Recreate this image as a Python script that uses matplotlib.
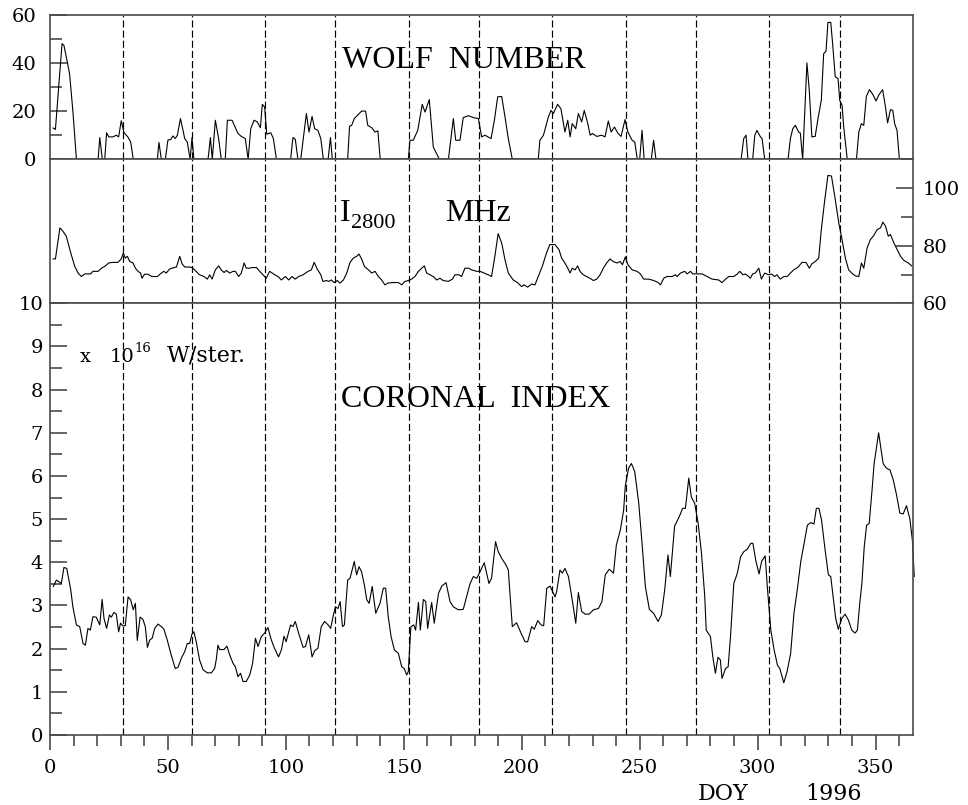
import numpy as np
import matplotlib
matplotlib.use("Agg")
import matplotlib.pyplot as plt
from matplotlib.ticker import MultipleLocator

plt.rcParams['font.family'] = 'DejaVu Serif'

# first day of each month, 1996 (leap year)
month_starts = [31, 60, 91, 121, 152, 182, 213, 244, 274, 305, 335]

# daily Wolf number (day of year, value)
wolf = [(1.3, 13), (2.3, 12.4), (5.1, 48), (5.9, 47.3), (6.9, 42.5), (8.3, 35.5), (9.7, 20),
        (11.2, 0), (20.4, 0), (21.1, 9), (22.2, 0), (23.2, 0), (24, 11), (24.9, 9.3), (26.7, 9.3),
        (28.1, 10), (29.1, 9.3), (30.2, 16), (31.4, 11), (33, 9.3), (34.2, 7.2), (35.3, 0),
        (45.5, 0), (46.2, 7), (47.2, 0), (48.9, 0), (50, 8), (51.2, 8.2), (52.1, 9.7), (53.1, 8.6),
        (54, 10), (55.3, 16.9), (56.4, 12), (57.1, 8.6), (58.2, 7.2), (59.4, 0), (60.2, 9), (61, 0),
        (67, 0), (68, 9), (68.8, 0), (70.1, 16.2), (71.5, 8.6), (72.6, 0), (74.3, 0), (75.2, 16.2),
        (77.2, 16.2), (79.7, 10.7), (81.1, 9.5), (82.8, 8.6), (84, 0), (85.1, 12.7), (86.5, 16.2),
        (87.9, 15.5), (89.2, 13.1), (90, 22.8), (91, 21.7), (91.9, 10.4), (93.6, 11), (94.7, 8.6),
        (96, 0), (102, 0), (103, 9), (104, 8.3), (105.1, 0), (106.3, 0), (108.7, 19), (109.8, 11.3),
        (111.1, 17.8), (112.2, 12.7), (113.6, 12), (114.8, 8.6), (115.9, 0), (117.9, 0), (118.9, 9),
        (119.7, 0), (126.2, 0), (127, 13.7), (127.9, 14.1), (129, 16.9), (130.4, 18.3), (132.1, 20),
        (133.8, 20), (134.7, 14.1), (136.4, 13.1), (137.8, 11.3), (139, 11.8), (140, 0), (151.9, 0),
        (152.6, 7.9), (154, 7.9), (155.9, 12), (157.8, 22.8), (159, 19.6), (160.8, 24.8), (162.5, 5.1),
        (165.1, 0), (168.9, 0), (171, 16.9), (172, 7.9), (173.8, 7.9), (175.2, 17.3), (177.4, 18.1),
        (179.5, 17.3), (181.6, 16.9), (183, 9.3), (184.4, 10), (187, 8.6), (188.4, 16.2), (189.8, 25.9),
        (191.5, 26.1), (192.9, 17.6), (194.3, 8.6), (196, 0), (207, 0), (207.7, 7.9), (209.2, 10),
        (211.3, 17.6), (212.4, 20.3), (213.4, 19), (215.2, 22.8), (216.6, 21), (218.3, 11.3),
        (219.5, 16.2), (220.5, 9.3), (221.4, 14.8), (222.9, 12.7), (224, 19), (225.4, 15.5),
        (226.5, 20.3), (228, 14.8), (229, 10), (230, 10.7), (231.8, 9.5), (233.9, 10), (235.3, 9.3),
        (236.7, 15.9), (237.9, 11.3), (239.3, 13.4), (240.7, 10.9), (242.1, 9.5), (243.8, 16.5),
        (245, 11.3), (246.8, 7.9), (247.9, 7.2), (249, 0), (250, 0), (251, 12), (251.9, 0), (254.9, 0),
        (255.9, 7.9), (256.9, 0), (293, 0), (294.1, 8.6), (295.1, 10), (295.9, 0), (297.9, 0),
        (298.8, 10), (299.7, 12), (301.2, 9.3), (301.9, 8.6), (303, 0), (312.9, 0), (313.9, 8.6),
        (314.9, 12.7), (316, 14.1), (317.4, 11.3), (318.1, 10.9), (319.1, 0), (320.9, 40),
        (321.9, 28.6), (323, 9.3), (324.4, 9.5), (325.6, 16.9), (327, 24.5), (328, 43.8), (329, 44.9),
        (329.8, 56.8), (331, 56.8), (331.8, 48), (332.9, 34.2), (334.1, 33.5), (334.8, 24.5),
        (335.8, 22.4), (336.5, 13.4), (338, 0), (341.9, 0), (342.9, 11.3), (344, 14.8), (345, 14.1),
        (346.1, 26.1), (347.4, 28.9), (348.8, 27), (350.2, 24.2), (351.3, 26.6), (353, 28.9),
        (354.2, 21.7), (355.1, 15.1), (356.3, 20.6), (357.3, 20.3), (358.1, 14.8), (359.1, 12),
        (360.1, 0), (366, 0)]

# 2800 MHz radio flux
flux = [(1.3, 75.4), (2.3, 75.4), (4.2, 86.2), (5.5, 85), (6.9, 83.3), (8.8, 77.5), (10.5, 72.8),
        (11.9, 70.5), (13.3, 69.3), (14.7, 70.2), (17.2, 70.2), (18.2, 71.1), (20.4, 71.1),
        (21.8, 72.2), (23.2, 72.8), (24.9, 74), (26.3, 74.2), (28.8, 74.2), (30.2, 75.4), (31.1, 77.5),
        (31.9, 75.7), (32.8, 76.3), (33.8, 74.5), (35.2, 74), (36.2, 72.2), (37.3, 71.1), (38.4, 70.5),
        (39, 68.7), (40.1, 70.1), (41.5, 70.1), (43.2, 69.3), (45.5, 69.3), (47.2, 70.5), (48.3, 71.1),
        (49.3, 70.5), (50.7, 71.9), (51.7, 72.2), (53.6, 72.6), (55, 76.3), (56, 73.7), (57.1, 72.6),
        (59.2, 72.6), (60.2, 72.4), (61.3, 71.6), (63.4, 69.9), (65.3, 69.3), (66.7, 68.4), (67.7, 69.9),
        (68.7, 68.4), (70.1, 71.6), (71.5, 73), (72.6, 71.6), (73.8, 70.7), (74.8, 71.4), (76.2, 70.5),
        (77.6, 71.1), (78.6, 71.1), (80, 69.3), (81.1, 70.5), (82.3, 74), (83.2, 72.2), (84.7, 72.2),
        (85.6, 72.4), (87.5, 72.4), (88.9, 71.1), (90.3, 69.9), (91.7, 68.7), (93.1, 71.1), (95.3, 69.9),
        (96.7, 69.3), (98.1, 68.1), (99.8, 69.3), (101.2, 68.1), (102.6, 69.3), (104, 68.4),
        (105.4, 69.3), (107.3, 69.9), (109.4, 71.1), (110.8, 71.6), (112, 74.2), (113.3, 71.9),
        (114.8, 69.9), (115.7, 67.6), (117.2, 67.9), (118.1, 67.6), (119.3, 68.1), (120.4, 67.2),
        (121.8, 67.9), (122.9, 67), (124.4, 68.1), (125.8, 70.5), (127.2, 74.2), (128.6, 75.7),
        (130, 76.3), (131, 77.1), (132.1, 75.4), (133.3, 72.8), (135, 71.6), (136.4, 70.5),
        (137.8, 71.1), (139.2, 69.3), (140.6, 68.1), (142, 66.4), (143.2, 67), (144.9, 67.2),
        (147.7, 67.2), (149.1, 66.4), (150.5, 67.6), (151.9, 67.9), (153.3, 68.4), (154.7, 69.3),
        (156.2, 71.1), (157.6, 72.2), (158.7, 73), (159.7, 70.5), (161.1, 69.9), (162.5, 69.3),
        (163.9, 68.1), (165.3, 68.7), (166.7, 67.9), (168.9, 67.6), (170.6, 68.4), (171.7, 69.9),
        (173.4, 69.9), (174.5, 69.3), (175.9, 72.2), (177.4, 72.2), (178.8, 71.6), (180.9, 71.1),
        (182.3, 71.1), (184.1, 70.5), (185.8, 69.9), (187.2, 69.3), (188.6, 76.3), (190, 84.2),
        (191.5, 80.9), (192.9, 75.1), (194.3, 70.5), (196.4, 68.1), (198.2, 67.2), (199.9, 65.8),
        (201, 66.4), (202.5, 65.6), (204.2, 66.7), (205.6, 66.4), (207, 69.3), (208.7, 72.8),
        (210.5, 77.5), (211.9, 80.4), (214.1, 80.4), (215.8, 78.6), (216.9, 75.7), (218.3, 74),
        (219.5, 72.2), (220.5, 70.5), (221.4, 72.2), (222.6, 71.6), (223.7, 73), (224.7, 71.1),
        (226.1, 69.9), (227.5, 69.3), (228.9, 68.7), (230.4, 67.9), (231.8, 68.4), (233.2, 69.9),
        (234.6, 72.2), (236, 74), (237.4, 75.4), (238.8, 74.5), (240.3, 74), (241.7, 74.5),
        (242.7, 73.4), (243.9, 76.1), (245, 73.4), (246.8, 71.6), (248.9, 71.1), (250.3, 70.2),
        (251.7, 68.4), (253.8, 68.4), (256, 67.9), (257.8, 67.2), (258.8, 66.4), (260.2, 68.7),
        (261.6, 69.3), (263.7, 69.3), (265.2, 69.9), (265.9, 69.3), (267.3, 70.5), (269.1, 71.1),
        (270.1, 70.2), (271.5, 71.1), (272.5, 70.2), (276.5, 70.2), (278.6, 69.3), (280.7, 68.4),
        (283.5, 68.1), (284.9, 67.2), (286.4, 68.4), (287.8, 69.3), (289.9, 69.3), (291.4, 70.2),
        (292.4, 71.1), (293.8, 69.9), (294.8, 70.2), (296.2, 69.3), (296.9, 68.7), (297.9, 70.2),
        (299, 70.5), (300.5, 72.2), (301.6, 68.4), (303, 70.5), (304.7, 69.9), (305.8, 70.2),
        (307.2, 69.3), (308.2, 69.9), (309.6, 68.4), (311.1, 69.3), (312.5, 69.3), (313.9, 70.5),
        (315.3, 71.6), (317.2, 72.6), (318.8, 74.2), (320.5, 74.2), (321.9, 72.2), (323, 73.7),
        (324.4, 74.5), (325.9, 75.7), (327, 85.6), (328.4, 95.5), (329.8, 104.4), (331.3, 104.2),
        (332.7, 97.2), (334.4, 87.9), (335.8, 82.1), (337.2, 75.7), (338.6, 71.6), (340.3, 70.2),
        (341.5, 69.5), (342.9, 69.3), (344, 74), (345, 72.2), (346.4, 79.2), (347.8, 82.1),
        (349.2, 83.5), (350.7, 85.6), (352.1, 86.2), (353.1, 88.2), (354.2, 86.8), (355.4, 83.3),
        (356.3, 83.9), (357.8, 80.9), (359.2, 78.6), (360.6, 76.3), (362, 74.9), (363.9, 74),
        (365.3, 73)]

# coronal index, units of 1e16 W/ster
coronal = [(1.4, 3.44), (2.7, 3.59), (4.8, 3.51), (5.9, 3.88), (7.1, 3.86), (8.8, 3.36), (9.7, 2.97),
           (11.2, 2.55), (12.6, 2.51), (14, 2.12), (15, 2.08), (16.1, 2.47), (17.1, 2.43), (18.2, 2.74),
           (19.6, 2.73), (21.1, 2.55), (22.1, 3.14), (22.9, 2.7), (24, 2.47), (25.2, 2.78), (26, 2.73),
           (27.1, 2.84), (28.1, 2.8), (29.1, 2.39), (29.9, 2.59), (30.9, 2.53), (31.9, 2.53), (33.1, 3.2),
           (34.2, 3.13), (35.3, 2.9), (36.2, 3.05), (37, 2.19), (38.2, 2.73), (39.4, 2.68), (40.4, 2.51),
           (41.3, 2.03), (42.3, 2.2), (43.3, 2.24), (44.4, 2.47), (45.8, 2.57), (47.2, 2.51), (48.3, 2.45),
           (49.7, 2.2), (51.4, 1.85), (53.1, 1.54), (54.3, 1.57), (55.7, 1.78), (57.1, 1.93), (58.2, 2.12),
           (59.2, 2.12), (60.2, 2.34), (61, 2.39), (62, 2.16), (63.4, 1.74), (64.9, 1.51), (66.7, 1.44),
           (68.4, 1.44), (69.8, 1.54), (70.5, 1.75), (71.2, 2.08), (71.9, 1.98), (73.8, 1.98), (75, 2.06),
           (76.2, 1.85), (77.6, 1.66), (78.6, 1.58), (79.7, 1.35), (80.8, 1.43), (81.8, 1.24), (83.2, 1.24),
           (84.7, 1.39), (85.9, 1.66), (87.1, 2.24), (88.2, 2.05), (89.6, 2.28), (91, 2.36), (92.4, 2.49),
           (93.6, 2.24), (95, 2.03), (96.9, 1.81), (98.1, 1.97), (99.2, 2.29), (100.1, 2.16), (102, 2.55),
           (103, 2.51), (104, 2.63), (105.4, 2.36), (107.3, 2.03), (108.3, 2.05), (109.7, 2.32),
           (111.1, 1.81), (112.2, 1.95), (113.6, 2.01), (115, 2.51), (116.4, 2.63), (117.9, 2.55),
           (119, 2.47), (120, 2.74), (121, 2.97), (122.1, 2.93), (123, 3.09), (124, 2.51), (124.8, 2.55),
           (126.2, 3.59), (127.2, 3.63), (129, 4.02), (130, 3.71), (131, 3.9), (132.1, 3.78), (133.3, 3.47),
           (134.3, 3.13), (135.3, 3.05), (136.6, 3.44), (138.1, 2.82), (139.9, 3.05), (141.3, 3.4),
           (142.3, 3.4), (143.4, 2.74), (144.6, 2.28), (146, 1.97), (147.7, 1.89), (149.1, 1.58),
           (150.2, 1.54), (151.2, 1.39), (151.9, 1.47), (153, 2.51), (154.2, 2.55), (155, 2.43),
           (156.2, 3.07), (157, 2.43), (158.3, 3.14), (159.3, 3.09), (160.1, 2.47), (161.8, 3.07),
           (162.9, 2.59), (164.7, 3.28), (166.1, 3.45), (167.9, 3.53), (169.6, 3.09), (171, 2.97),
           (173.1, 2.9), (175.2, 2.91), (176.6, 3.2), (178.1, 3.51), (179.5, 3.67), (180.9, 3.63),
           (182.3, 3.78), (184.1, 3.99), (186.1, 3.51), (187.2, 3.63), (188.9, 4.48), (190, 4.25),
           (191.5, 4.09), (193.1, 3.96), (194.3, 3.82), (196, 2.51), (197.8, 2.6), (199.7, 2.36),
           (201.4, 2.16), (202.5, 2.16), (204.2, 2.51), (205.3, 2.45), (206.8, 2.65), (208.2, 2.55),
           (209.3, 2.53), (210.6, 3.4), (212, 3.45), (214.1, 3.2), (214.8, 3.32), (216.2, 3.82),
           (217.2, 3.75), (218.3, 3.86), (219.8, 3.67), (221.4, 3.13), (222.9, 2.59), (224, 3.3),
           (225.4, 2.86), (226.9, 2.8), (228.6, 2.8), (230.4, 2.9), (232.5, 2.93), (234, 3.09),
           (235.4, 3.71), (237.1, 3.84), (238.9, 3.75), (240.1, 4.4), (241.8, 4.75), (243.2, 5.21),
           (243.9, 5.77), (245.3, 6.18), (246.5, 6.29), (247.9, 6.1), (249.6, 5.37), (251, 4.44),
           (252.4, 3.44), (254.1, 2.91), (255.9, 2.82), (257.8, 2.63), (259.2, 2.78), (260.6, 3.36),
           (262, 4.17), (263, 3.67), (264.8, 4.84), (266.8, 5.06), (268.2, 5.25), (269.4, 5.25),
           (270.8, 5.95), (271.9, 5.51), (273.3, 5.37), (274.8, 4.9), (276.2, 4.21), (277.6, 3.2),
           (278.2, 2.43), (280, 2.28), (281, 1.81), (282.1, 1.43), (283.2, 1.8), (284.2, 1.74),
           (284.9, 1.31), (286.4, 1.54), (287.5, 1.58), (288.5, 2.28), (289.9, 3.51), (291.4, 3.75),
           (292.8, 4.13), (294.2, 4.25), (295.6, 4.3), (297.1, 4.44), (298, 4.44), (299.2, 4.05),
           (300.6, 3.73), (301.7, 4.02), (303.2, 4.15), (304.1, 3.44), (305.6, 2.43), (307, 1.97),
           (308.4, 1.62), (309.4, 1.54), (311.1, 1.21), (312.5, 1.47), (314, 1.89), (315.4, 2.82),
           (316.9, 3.4), (318.3, 4.02), (319.7, 4.44), (321.1, 4.86), (322.5, 4.92), (323.9, 4.89),
           (324.9, 5.25), (326, 5.25), (327.1, 4.98), (328.6, 4.29), (330, 3.71), (331, 3.67), (332, 3.2),
           (333.1, 2.7), (334.2, 2.45), (335.7, 2.7), (337.1, 2.8), (338.5, 2.66), (339.9, 2.43),
           (341.3, 2.36), (342.3, 2.43), (343.3, 3.05), (344.2, 3.51), (345.2, 4.36), (346.2, 4.86),
           (347.3, 4.9), (348.4, 5.6), (349.4, 6.29), (351.3, 7.0), (353.2, 6.29), (354.6, 6.18),
           (356.1, 6.14), (357.5, 5.91), (358.9, 5.56), (360.3, 5.14), (361.7, 5.12), (363.1, 5.31),
           (364.5, 5.02), (365.6, 4.52), (366.4, 3.67)]

frame_col = '#4a4a4a'

fig = plt.figure(figsize=(9.68, 8.05), dpi=100)
left, width = 50 / 968, 863.3 / 968
ax1 = fig.add_axes([left, 1 - 159.3 / 805, width, 144.6 / 805])
ax2 = fig.add_axes([left, 1 - 303.3 / 805, width, 144.0 / 805])
ax3 = fig.add_axes([left, 1 - 735 / 805, width, 431.7 / 805])

for ax, series in ((ax1, wolf), (ax2, flux), (ax3, coronal)):
    d = np.array(series)
    ax.plot(d[:, 0], d[:, 1], color='black', lw=0.8, clip_on=False)
    ax.set_xlim(0, 366)
    for m in month_starts:
        ax.axvline(m, color='black', lw=0.85, ls=(0, (6, 2.6)))
    for s in ax.spines.values():
        s.set_color(frame_col)
        s.set_linewidth(1.2)
    ax.tick_params(which='both', colors=frame_col, labelcolor='black', labelsize=14, width=1.2)

# wolf number panel
ax1.set_ylim(0, 60)
ax1.yaxis.set_major_locator(MultipleLocator(20))
ax1.yaxis.set_minor_locator(MultipleLocator(10))
ax1.tick_params(axis='x', which='both', bottom=False, labelbottom=False)
ax1.tick_params(axis='y', which='both', direction='in', left=True, right=False, pad=10)
ax1.tick_params(axis='y', which='major', length=12)
ax1.tick_params(axis='y', which='minor', length=8.5)
ax1.text(123.7, 37.8, 'WOLF  NUMBER', family='Liberation Serif', fontsize=23, va='baseline')

# 2800 MHz panel, scale on the right
ax2.set_ylim(60, 110)
ax2.yaxis.set_major_locator(MultipleLocator(20))
ax2.yaxis.set_minor_locator(MultipleLocator(10))
ax2.tick_params(axis='x', which='both', bottom=False, labelbottom=False)
ax2.tick_params(axis='y', which='both', direction='in', left=False, labelleft=False,
                right=True, labelright=True, pad=7)
ax2.tick_params(axis='y', which='major', length=12)
ax2.tick_params(axis='y', which='minor', length=8.5)
ax2.text(123.0, 88.5, 'I', family='Liberation Serif', fontsize=23, va='baseline')
ax2.text(127.6, 86.2, '2800', family='Liberation Serif', fontsize=16, va='baseline')
ax2.text(167.5, 88.5, 'MHz', family='Liberation Serif', fontsize=23, va='baseline')

# coronal index panel
ax3.set_ylim(0, 10)
ax3.yaxis.set_major_locator(MultipleLocator(1))
ax3.yaxis.set_minor_locator(MultipleLocator(0.5))
ax3.xaxis.set_major_locator(MultipleLocator(50))
ax3.xaxis.set_minor_locator(MultipleLocator(10))
ax3.tick_params(axis='y', which='both', direction='in', left=True, right=False, pad=5)
ax3.tick_params(axis='y', which='major', length=12)
ax3.tick_params(axis='y', which='minor', length=8.5)
ax3.tick_params(axis='x', which='both', direction='out', bottom=True, top=False, pad=6)
ax3.tick_params(axis='x', which='major', length=11)
ax3.tick_params(axis='x', which='minor', length=8)
ax3.text(123.4, 7.6, 'CORONAL  INDEX', family='Liberation Serif', fontsize=23, va='baseline')
ax3.text(12.7, 8.65, 'x', fontsize=14, va='baseline')
ax3.text(25.4, 8.65, '10', fontsize=14, va='baseline')
ax3.text(36.0, 8.87, '16', fontsize=9.5, va='baseline')
ax3.text(49.5, 8.65, 'W/ster.', fontsize=16, va='baseline')
ax3.text(274.7, -0.15, 'DOY', fontsize=16, va='baseline',
         transform=ax3.get_xaxis_transform())
ax3.text(320.1, -0.15, '1996', fontsize=16, va='baseline',
         transform=ax3.get_xaxis_transform())

fig.savefig('out.png', dpi=100)
